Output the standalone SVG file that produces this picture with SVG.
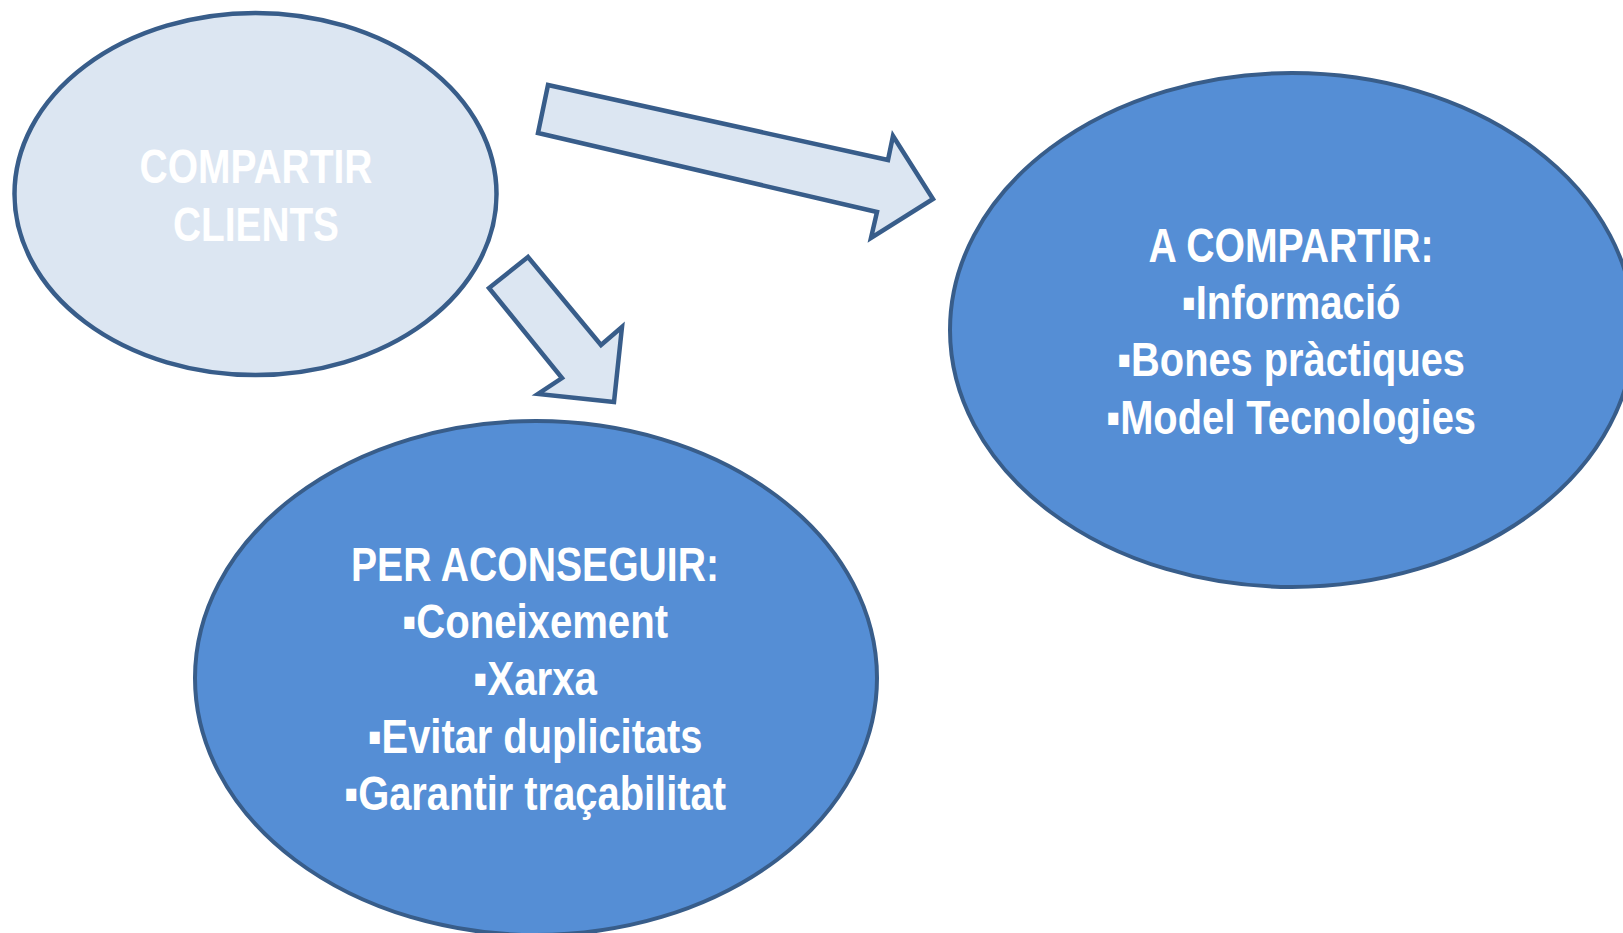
<svg xmlns="http://www.w3.org/2000/svg" width="1623" height="933" viewBox="0 0 1623 933">
<style>
.light{fill:#DCE6F2;stroke:#385D8A;stroke-width:4.5;stroke-linejoin:miter}
.dark{fill:#558ED5;stroke:#385D8A;stroke-width:4}
.t{font-family:"Liberation Sans",Arial,sans-serif;font-weight:bold;fill:#FFFFFF;text-anchor:middle;font-size:49px}
</style>
<rect width="1623" height="933" fill="#FFFFFF"/>
<g id="node-compartir-clients">
<ellipse class="light" cx="255.5" cy="194" rx="241" ry="181"/>
<text class="t" x="256" y="183" textLength="233" lengthAdjust="spacingAndGlyphs">COMPARTIR</text>
<text class="t" x="256" y="241" textLength="166" lengthAdjust="spacingAndGlyphs">CLIENTS</text>
</g>
<g id="node-a-compartir">
<ellipse class="dark" cx="1292" cy="330" rx="342" ry="257"/>
<text class="t" x="1291" y="262" textLength="285" lengthAdjust="spacingAndGlyphs">A COMPARTIR:</text>
<text class="t" x="1291" y="319" textLength="219" lengthAdjust="spacingAndGlyphs">▪Informació</text>
<text class="t" x="1291" y="376" textLength="348" lengthAdjust="spacingAndGlyphs">▪Bones pràctiques</text>
<text class="t" x="1291" y="434" textLength="370" lengthAdjust="spacingAndGlyphs">▪Model Tecnologies</text>
</g>
<g id="node-per-aconseguir">
<ellipse class="dark" cx="536" cy="678" rx="341" ry="257"/>
<text class="t" x="535" y="581" textLength="368" lengthAdjust="spacingAndGlyphs">PER ACONSEGUIR:</text>
<text class="t" x="535" y="638" textLength="266" lengthAdjust="spacingAndGlyphs">▪Coneixement</text>
<text class="t" x="535" y="695" textLength="124" lengthAdjust="spacingAndGlyphs">▪Xarxa</text>
<text class="t" x="535" y="753" textLength="335" lengthAdjust="spacingAndGlyphs">▪Evitar duplicitats</text>
<text class="t" x="535" y="810" textLength="382" lengthAdjust="spacingAndGlyphs">▪Garantir traçabilitat</text>
</g>
<g id="connectors">
<polygon class="light" points="548,85 538,133 877,212 871,238 933,199 893,136 888,160"/>
<polygon class="light" points="528,257 489,288 562,378 538,394 614,402 622,327 601,345"/>
</g>
</svg>
